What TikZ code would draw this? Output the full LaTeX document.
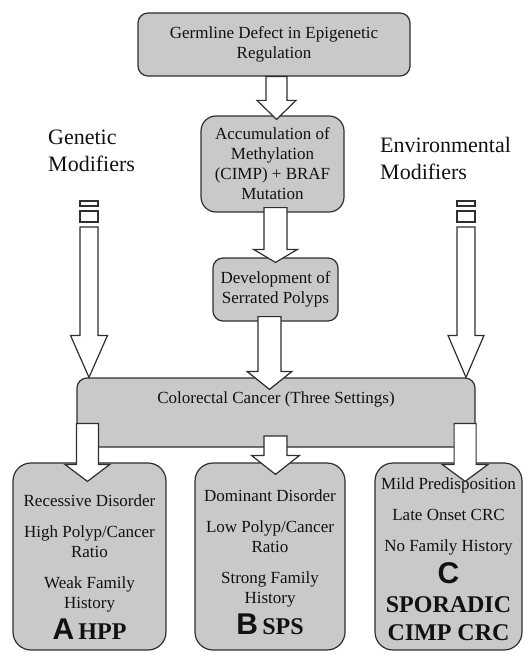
\documentclass[tikz,border=0pt]{standalone}
\usepackage{fontspec}
\setmainfont{Liberation Serif}
\setsansfont{Liberation Sans}
\usetikzlibrary{calc}
\definecolor{boxgray}{HTML}{C9C9C9}
\definecolor{edge}{HTML}{2F2F2F}
\definecolor{ink}{HTML}{111111}
\newcommand{\boxfont}{\rmfamily\mdseries\fontsize{17}{20}\selectfont}
\newcommand{\modfont}{\rmfamily\fontsize{22}{27}\selectfont}
\newcommand{\bigletter}[1]{{\sffamily\bfseries\fontsize{30}{30}\selectfont #1}}
\newcommand{\tagfont}{\rmfamily\bfseries\fontsize{24}{28}\selectfont}
% hollow block arrow: start, tip, shaft half width, head half width, head length
\newcommand{\fatarrow}[5]{%
  \draw[fatline] let \p1=(#1), \p2=(#2) in
    (\x1-#3,\y1) -- (\x1-#3,\y2+#5) -- (\x1-#4,\y2+#5) -- (\x1,\y2)
    -- (\x1+#4,\y2+#5) -- (\x1+#3,\y2+#5) -- (\x1+#3,\y1) -- cycle;}
\tikzset{
  stage/.style={draw=edge,fill=boxgray,line width=1.2pt,rounded corners=10pt,
    align=center,inner sep=0pt,font=\boxfont,text=ink},
  setting/.style={stage,rounded corners=18pt},
  boxtext/.style={align=center,inner sep=0pt,font=\boxfont,text=ink},
  modtext/.style={align=left,inner sep=0pt,font=\modfont,text=ink},
  fatline/.style={draw=edge,fill=white,line width=1.2pt,line join=miter},
}
\begin{document}
\begin{tikzpicture}[x=1pt,y=-1pt]
\useasboundingbox (0,0) rectangle (525,655);
% stages down the middle
\node[stage,minimum width=272,minimum height=63] (germ) at (274,44.5)
  {Germline Defect in Epigenetic\\Regulation};
\node[stage,rounded corners=15pt,minimum width=143,minimum height=96] (accum) at (272.5,164)
  {Accumulation of\\Methylation\\(CIMP) + BRAF\\Mutation};
\node[stage,minimum width=125,minimum height=63] (devel) at (275.5,289.5)
  {Development of\\Serrated Polyps};
\node[stage,minimum width=398,minimum height=69] (crc) at (276,412.5) {};
\node[boxtext,anchor=north] (crctext) at (276,392) {Colorectal Cancer (Three Settings)};
% the three settings
\node[setting,minimum width=153,minimum height=187] (hpp) at (89.5,556.5) {};
\node[setting,minimum width=150,minimum height=187] (sps) at (270,556.5) {};
\node[setting,minimum width=147,minimum height=187] (cimp) at (448.5,556.5) {};
\node[boxtext,anchor=north] (hpptext) at (89.5,494.5)
  {Recessive Disorder\\[11pt]High Polyp/Cancer\\Ratio\\[11pt]Weak Family\\History\\[6pt]%
   \bigletter{A} {\tagfont HPP}};
\node[boxtext,anchor=north] (spstext) at (270,489.5)
  {Dominant Disorder\\[11pt]Low Polyp/Cancer\\Ratio\\[11pt]Strong Family\\History\\[6pt]%
   \bigletter{B} {\tagfont SPS}};
\node[boxtext,anchor=north] (cimptext) at (448.5,477.5)
  {Mild Predisposition\\[11pt]Late Onset CRC\\[11pt]No Family History\\[6pt]%
   \bigletter{C}\\[9pt]{\tagfont SPORADIC}\\[8pt]{\tagfont CIMP CRC}};
% modifiers
\node[modtext,anchor=north west] (genmod) at (48,130) {Genetic\\Modifiers};
\node[modtext,anchor=north west] (envmod) at (380,137) {Environmental\\Modifiers};
\coordinate (genstart) at (89,227);
\coordinate (envstart) at (466,227);
\foreach \xc in {89,466} {
  \draw[fatline] (\xc-9,201) rectangle (\xc+9,206);
  \draw[fatline] (\xc-9,211) rectangle (\xc+9,222);
}
\fatarrow{genstart}{genstart |- crc.north}{9pt}{18.5pt}{42pt}
\fatarrow{envstart}{envstart |- crc.north}{9pt}{18pt}{42pt}
% arrows down the middle
\fatarrow{[xshift=2.5pt]germ.south}{[yshift=-4pt]accum.north}{10.5pt}{19.5pt}{19pt}
\fatarrow{[xshift=3pt,yshift=5pt]accum.south}{[yshift=-5pt]devel.north}{11.5pt}{22pt}{13pt}
\fatarrow{[xshift=-6pt,yshift=5pt]devel.south}{[yshift=-12pt]crc.north}{11.5pt}{22.5pt}{18pt}
% into the settings
\fatarrow{[xshift=11pt,yshift=-11pt]crc.west}{[yshift=-19pt]hpp.north}{11pt}{22.5pt}{17pt}
\fatarrow{[xshift=-0.5pt,yshift=-23.5pt]crc.center}{[yshift=-12pt]sps.north}{11.5pt}{24pt}{19pt}
\fatarrow{[xshift=-10.5pt,yshift=-11pt]crc.east}{[yshift=-19pt]cimp.north}{11pt}{23pt}{17pt}
\end{tikzpicture}
\end{document}
